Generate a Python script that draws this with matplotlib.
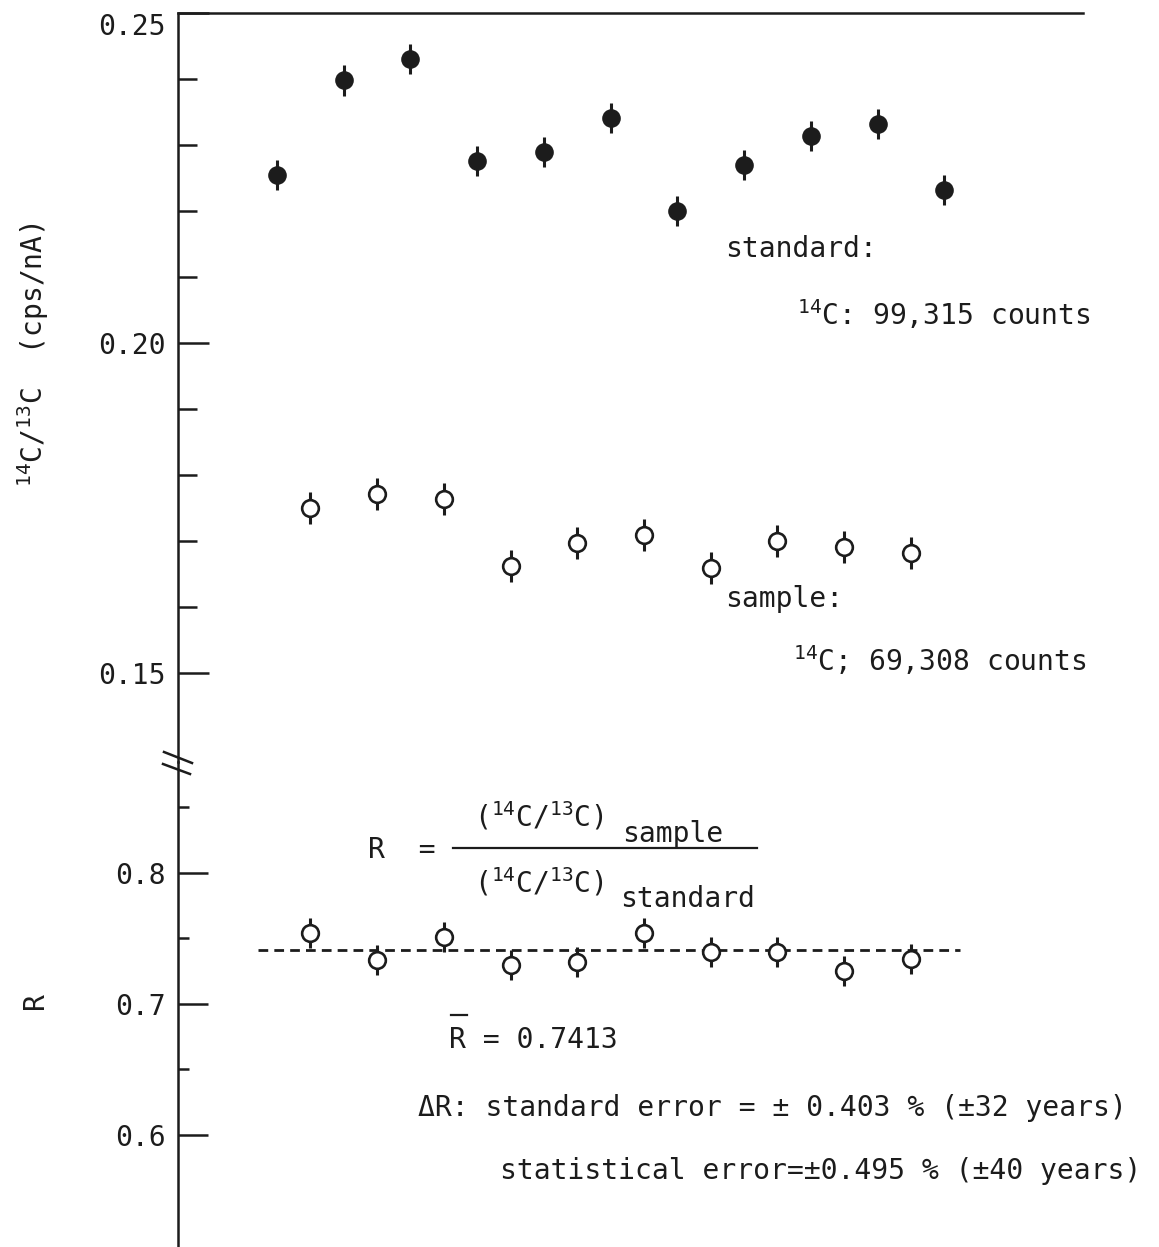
import matplotlib.pyplot as plt
from matplotlib.lines import Line2D
from matplotlib.ticker import FixedLocator, FormatStrFormatter

plt.rcParams['font.family'] = 'DejaVu Sans Mono'
plt.rcParams['mathtext.fontset'] = 'custom'
plt.rcParams['mathtext.rm'] = 'DejaVu Sans Mono'
plt.rcParams['mathtext.default'] = 'rm'

# measurement sequence (standard and sample alternate)
std_x = [0, 1, 2, 3, 4, 5, 6, 7, 8, 9, 10]
std_ratio = [0.2255, 0.2398, 0.2430, 0.2276, 0.2289, 0.2341, 0.2200, 0.2270, 0.2314, 0.2332, 0.2232]
std_err = [0.0023, 0.0023, 0.0023, 0.0023, 0.0023, 0.0023, 0.0023, 0.0023, 0.0023, 0.0023, 0.0023]

smp_x = [0.5, 1.5, 2.5, 3.5, 4.5, 5.5, 6.5, 7.5, 8.5, 9.5]
smp_ratio = [0.1750, 0.1771, 0.1764, 0.1662, 0.1697, 0.1709, 0.1659, 0.1700, 0.1691, 0.1682]
smp_err = [0.0024, 0.0024, 0.0024, 0.0024, 0.0024, 0.0024, 0.0024, 0.0024, 0.0024, 0.0024]

r_values = [0.7542, 0.7336, 0.7511, 0.7298, 0.7321, 0.7542, 0.7397, 0.7397, 0.7252, 0.7344]
r_err = [0.0115, 0.0115, 0.0115, 0.0115, 0.0115, 0.0115, 0.0115, 0.0115, 0.0115, 0.0115]
r_mean = 0.7413
r_mean_span = [-0.285, 10.24]

upper_ticks = [0.15, 0.20, 0.25]
upper_minor = [0.16, 0.17, 0.18, 0.19, 0.21, 0.22, 0.23, 0.24]
lower_ticks = [0.6, 0.7, 0.8]
lower_minor = [0.65, 0.75, 0.85]

W, H = 1159, 1247
FS = 20.2
INK = '#1c1c1c'


def fx(px):
    return px / W


def fy(py):
    return 1 - py / H


fig = plt.figure(figsize=(W / 100, H / 100), dpi=100)
fig.patch.set_facecolor('white')

ax1 = fig.add_axes([fx(178), fy(762), 905 / W, 749 / H])
ax2 = fig.add_axes([fx(178), 0, 905 / W, 485 / H])

for ax in (ax1, ax2):
    ax.set_xlim(-1.484, 12.08)
    ax.set_xticks([])
    ax.spines['right'].set_visible(False)
    ax.spines['bottom'].set_visible(False)
    ax.spines['left'].set_linewidth(1.8)
    ax.spines['left'].set_color(INK)
    ax.set_facecolor('none')
ax1.spines['top'].set_linewidth(1.8)
ax1.spines['top'].set_color(INK)
ax2.spines['top'].set_visible(False)

ax1.set_ylim(0.13652, 0.25)
ax2.set_ylim(0.5145, 0.8847)

ax1.yaxis.set_major_locator(FixedLocator(upper_ticks))
ax1.yaxis.set_minor_locator(FixedLocator(upper_minor))
ax1.yaxis.set_major_formatter(FormatStrFormatter('%.2f'))
ax1.tick_params(axis='y', which='major', direction='in', length=22, width=1.8,
                color=INK, labelsize=FS, labelcolor=INK, pad=9)
ax1.tick_params(axis='y', which='minor', direction='in', length=13.7, width=1.8, color=INK)
# top label sits just under the frame line
ax1.yaxis.get_major_ticks()[-1].label1.set_verticalalignment('top')

ax2.yaxis.set_major_locator(FixedLocator(lower_ticks))
ax2.yaxis.set_minor_locator(FixedLocator(lower_minor))
ax2.yaxis.set_major_formatter(FormatStrFormatter('%.1f'))
ax2.tick_params(axis='y', which='major', direction='in', length=21.5, width=1.8,
                color=INK, labelsize=FS, labelcolor=INK, pad=9)
ax2.tick_params(axis='y', which='minor', direction='in', length=8, width=1.8, color=INK)

# upper panel: standard (filled) and sample (open)
ax1.errorbar(std_x, std_ratio, yerr=std_err, fmt='o', ms=12.4, mfc=INK, mec=INK,
             ecolor=INK, elinewidth=2.2, capsize=0, clip_on=False)
ax1.errorbar(smp_x, smp_ratio, yerr=smp_err, fmt='o', ms=12, mfc='white', mec=INK,
             mew=1.9, ecolor=INK, elinewidth=2.2, capsize=0, clip_on=False)

# lower panel: R
ax2.plot(r_mean_span, [r_mean, r_mean], color=INK, lw=2.0, dashes=(3.5, 2.2), zorder=1)
ax2.errorbar(smp_x, r_values, yerr=r_err, fmt='o', ms=12, mfc='white', mec=INK,
             mew=1.9, ecolor=INK, elinewidth=2.2, capsize=0, zorder=3)

# axis titles
fig.text(fx(33), fy(355), '$^{14}$C/$^{13}$C  (cps/nA)', rotation=90,
         ha='center', va='center', fontsize=FS, color=INK)
fig.text(fx(35), fy(1001), 'R', rotation=90, ha='center', va='center',
         fontsize=FS, color=INK)

# axis break marks
for (x0, y0, x1, y1) in [(164, 752, 192, 763), (163, 764, 190, 774)]:
    fig.add_artist(Line2D([fx(x0), fx(x1)], [fy(y0), fy(y1)], color=INK, lw=1.8))


# annotations
def put(px, py, s):
    fig.text(fx(px), fy(py), s, ha='left', va='baseline', fontsize=FS, color=INK)


put(725, 257, 'standard:')
put(797, 325, '$^{14}$C: 99,315 counts')
put(725, 607, 'sample:')
put(793, 671, '$^{14}$C; 69,308 counts')

put(368, 858, 'R  =')
put(474, 827, '($^{14}$C/$^{13}$C)')
put(622, 842, 'sample')
put(474, 892, '($^{14}$C/$^{13}$C)')
put(620, 907, 'standard')
fig.add_artist(Line2D([fx(453), fx(757)], [fy(848), fy(848)], color=INK, lw=1.6))

put(449, 1048, 'R = 0.7413')
fig.add_artist(Line2D([fx(451), fx(467)], [fy(1015), fy(1015)], color=INK, lw=1.6))

put(418, 1116, 'ΔR: standard error = ± 0.403 % (±32 years)')
put(500, 1179, 'statistical error=±0.495 % (±40 years)')

fig.savefig('out.png', dpi=100, facecolor='white')
